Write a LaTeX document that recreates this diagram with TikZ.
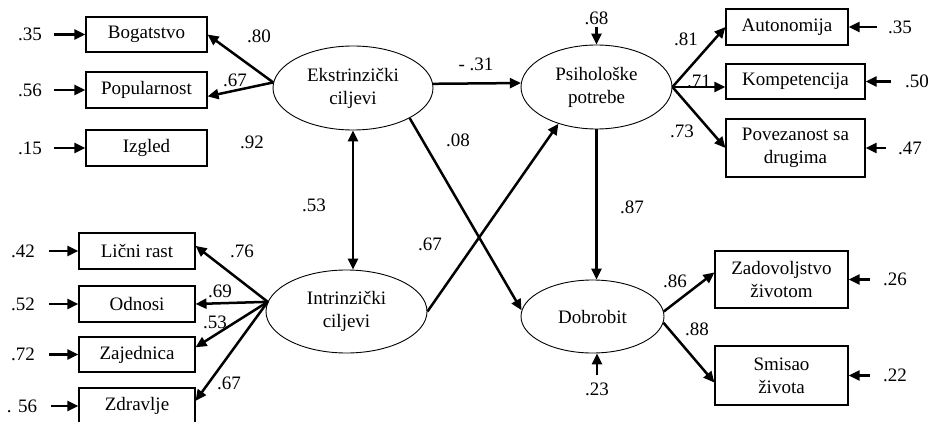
\documentclass[tikz,border=0pt]{standalone}
\usepackage{fontspec}
\setmainfont{Liberation Serif}
\usetikzlibrary{arrows.meta,shapes.geometric}
\begin{document}
\begin{tikzpicture}[x=1pt,y=-1pt,
  every node/.style={font=\fontsize{19}{23}\selectfont},
  obs/.style={draw,line width=1.1pt,inner sep=0pt,align=center},
  lat/.style={draw,ellipse,line width=0.9pt,inner sep=0pt,align=center},
  tip/.tip={Triangle[length=11pt,width=10pt]},
  arr/.style={line width=2.5pt,-tip},
  dbl/.style={line width=2.5pt,tip-tip},
  lbl/.style={inner sep=0pt}
]
\useasboundingbox (0,0) rectangle (931,422);

% observed boxes left top
\node[obs,minimum width=121pt,minimum height=35pt] (bog) at (146.5,34.5) {Bogatstvo};
\node[obs,minimum width=121pt,minimum height=36pt] (pop) at (146.5,90) {Popularnost};
\node[obs,minimum width=121pt,minimum height=36pt] (izg) at (146.5,148) {Izgled};
% observed boxes left bottom
\node[obs,minimum width=116pt,minimum height=36pt] (lic) at (137,251) {Lični rast};
\node[obs,minimum width=116pt,minimum height=36pt] (odn) at (137,304) {Odnosi};
\node[obs,minimum width=116pt,minimum height=35pt] (zaj) at (137,354.5) {Zajednica};
\node[obs,minimum width=116pt,minimum height=36pt] (zdr) at (137,406) {Zdravlje};
% observed boxes right
\node[obs,minimum width=122pt,minimum height=36pt] (aut) at (787,27) {Autonomija};
\node[obs,minimum width=139pt,minimum height=35pt] (kom) at (795.5,81.5) {Kompetencija};
\node[obs,minimum width=139pt,minimum height=58pt] (pov) at (795.5,148) {Povezanost sa\\drugima};
\node[obs,minimum width=133pt,minimum height=57pt] (zad) at (781.5,279.5) {Zadovoljstvo\\životom};
\node[obs,minimum width=133pt,minimum height=59pt] (smi) at (781.5,375.5) {Smisao\\života};

% latent ellipses
\node[lat,minimum width=160pt,minimum height=84pt] (eks) at (353,88) {Ekstrinzički\\ciljevi};
\node[lat,minimum width=151pt,minimum height=84pt] (psi) at (596.5,87) {Psihološke\\potrebe};
\node[lat,minimum width=161pt,minimum height=83pt] (int) at (346.5,311.5) {Intrinzički\\ciljevi};
\node[lat,minimum width=143pt,minimum height=73pt] (dob) at (592.5,316.5) {Dobrobit};

% residual labels
\node[lbl] (ra) at (30,34.5) {.35};
\node[lbl] (rb) at (30,90) {.56};
\node[lbl] (rc) at (30,148) {.15};
\node[lbl] (rd) at (23,251) {.42};
\node[lbl] (re) at (23,304) {.52};
\node[lbl] (rf) at (23,354.5) {.72};
\node[lbl] (rg) at (22,406) {. 56};
\node[lbl] (rh) at (900,27) {.35};
\node[lbl] (ri) at (917,81.5) {.50};
\node[lbl] (rj) at (910,148) {.47};
\node[lbl] (rk) at (895,279.5) {.26};
\node[lbl] (rl) at (895,375.5) {.22};
\node[lbl] (rm) at (596.5,18) {.68};
\node[lbl] (rn) at (597,389) {.23};

% residual arrows
\draw[arr,shorten <=12pt] (ra) -- (bog);
\draw[arr,shorten <=12pt] (rb) -- (pop);
\draw[arr,shorten <=12pt] (rc) -- (izg);
\draw[arr,shorten <=14pt] (rd) -- (lic);
\draw[arr,shorten <=14pt] (re) -- (odn);
\draw[arr,shorten <=14pt] (rf) -- (zaj);
\draw[arr,shorten <=14pt] (rg) -- (zdr);
\draw[arr,shorten <=11pt] (rh) -- (aut);
\draw[arr,shorten <=14pt] (ri) -- (kom);
\draw[arr,shorten <=12pt] (rj) -- (pov);
\draw[arr,shorten <=13pt] (rk) -- (zad);
\draw[arr,shorten <=13pt] (rl) -- (smi);
\draw[arr,shorten <=2pt] (rm) -- (psi);
\draw[arr,shorten <=7pt] (rn.north) -- (rn.north |- dob.south);

% loadings
\draw[arr] (eks.176) -- (bog.east);
\draw[arr] (eks.176) -- (pop.-6);
\draw[arr] (int.173) -- (lic.5);
\draw[arr] (int.173) -- (odn.east);
\draw[arr] (int.173) -- (zaj.7);
\draw[arr] (int.173) -- (zdr.5);
\draw[arr] (psi.east) -- (aut.west);
\draw[arr] (psi.east) -- (psi.east -| kom.west);
\draw[arr] (psi.east) -- (pov.west);
\draw[arr] (dob.4) -- (zad.174);
\draw[arr] (dob.-5) -- (smi.186);

% structural paths
\draw[arr] (eks.3) -- (psi.177);
\draw[arr] (eks.-28) -- (dob.175);
\draw[arr] (int.east) -- (psi.224);
\draw[arr] (psi.south) -- (psi.south |- dob.north);
\draw[dbl] (eks.south) -- (eks.south |- int.north);

% coefficient labels
\node[lbl] (c80) at (259,36) {.80};
\node[lbl] (c67a) at (235,80) {.67};
\node[lbl] (c92) at (252,142) {.92};
\node[lbl] (c53a) at (314,205) {.53};
\node[lbl] (c31) at (476,64) {- .31};
\node[lbl] (c08) at (458,140) {.08};
\node[lbl] (c87) at (632,207) {.87};
\node[lbl] (c67b) at (430,244) {.67};
\node[lbl] (c76) at (242,251) {.76};
\node[lbl] (c69) at (220,291) {.69};
\node[lbl] (c53b) at (215,322) {.53};
\node[lbl] (c67c) at (229,383) {.67};
\node[lbl] (c81) at (686,39) {.81};
\node[lbl] (c71) at (699,81) {.71};
\node[lbl] (c73) at (682,131) {.73};
\node[lbl] (c86) at (675,281) {.86};
\node[lbl] (c88) at (697,329) {.88};
\end{tikzpicture}
\end{document}
